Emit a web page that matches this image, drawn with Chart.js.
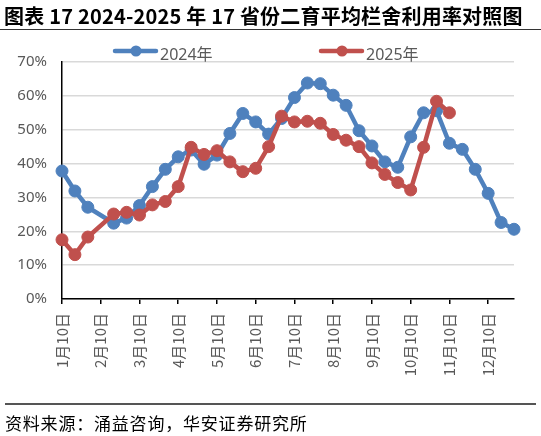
<!DOCTYPE html>
<html>
<head>
<meta charset="utf-8">
<script src="https://cdn.jsdelivr.net/npm/chart.js@4.4.1/dist/chart.umd.min.js"></script>
<style>
  body { margin: 0; background: #fff; }
  #page { position: relative; width: 541px; height: 436px; overflow: hidden; font-family: "Noto Sans CJK SC", sans-serif; }
  #title { position: absolute; left: 4px; top: 1px; font-size: 20px; font-weight: bold; color: #000; white-space: nowrap; letter-spacing: 0.2px; }
  #rule-top { position: absolute; left: 0; top: 29px; width: 541px; height: 0; border-top: 1.5px solid #333; }
  #rule-bottom { position: absolute; left: 5px; top: 403px; width: 531px; height: 0; border-top: 2px solid #555; }
  #source { position: absolute; left: 5px; top: 410px; font-size: 17px; color: #000; white-space: nowrap; letter-spacing: 0.8px; }
  #wrap { position: absolute; left: 0; top: 0; width: 541px; height: 436px; }
</style>
</head>
<body>
<div id="page">
  <div id="wrap"><canvas id="chart"></canvas></div>
  <div id="title">图表 17 2024-2025 年 17 省份二育平均栏舍利用率对照图</div>
  <div id="rule-top"></div>
  <div id="rule-bottom"></div>
  <div id="source">资料来源：涌益咨询，华安证券研究所</div>
</div>
<script>
// ten-day periods, one category per point
const categories = [
  '1月10日', '1月20日', '1月30日', '2月10日', '2月20日', '2月28日',
  '3月10日', '3月20日', '3月30日', '4月10日', '4月20日', '4月30日',
  '5月10日', '5月20日', '5月30日', '6月10日', '6月20日', '6月30日',
  '7月10日', '7月20日', '7月30日', '8月10日', '8月20日', '8月30日',
  '9月10日', '9月20日', '9月30日', '10月10日', '10月20日', '10月30日',
  '11月10日', '11月20日', '11月30日', '12月10日', '12月20日', '12月30日'
];

// only the 10th of each month gets a label
const tickLabels = ['1月10日', '2月10日', '3月10日', '4月10日', '5月10日', '6月10日',
  '7月10日', '8月10日', '9月10日', '10月10日', '11月10日', '12月10日'];

const seriesNames = ['2024年', '2025年'];

// utilisation rate, %
const rate2024 = [37.8, 31.9, 27.1, null, 22.4, 23.9, 27.6, 33.2, 38.3, 42.0, 44.0, 39.8,
  42.5, 48.9, 54.8, 52.3, 48.7, 53.3, 59.5, 63.8, 63.6, 60.2, 57.2, 49.7,
  45.2, 40.5, 38.9, 47.9, 55.0, 55.6, 46.0, 44.2, 38.3, 31.2, 22.6, 20.6];

const rate2025 = [17.5, 13.1, 18.3, null, 25.1, 25.6, 24.8, 27.8, 28.8, 33.2, 44.8, 42.7,
  43.8, 40.5, 37.6, 38.6, 45.0, 54.0, 52.3, 52.5, 51.9, 48.6, 46.9, 45.0,
  40.2, 36.8, 34.4, 32.2, 44.8, 58.4, 55.0];

const yTicks = [0, 10, 20, 30, 40, 50, 60, 70];

const BLUE = '#4F81BD';
const RED = '#C0504D';
const GREY_TEXT = '#595959';

// Excel style legend: line with a dot, placed above the plot
const excelLegend = {
  id: 'excelLegend',
  afterDraw(chart) {
    const ctx = chart.ctx;
    const starts = [115, 321];
    const y = 51;
    ctx.save();
    chart.data.datasets.forEach((ds, i) => {
      const x = starts[i];
      ctx.strokeStyle = ds.borderColor;
      ctx.lineWidth = 4.5;
      ctx.lineCap = 'round';
      ctx.beginPath();
      ctx.moveTo(x, y);
      ctx.lineTo(x + 41, y);
      ctx.stroke();
      ctx.fillStyle = ds.borderColor;
      ctx.beginPath();
      ctx.arc(x + 21, y, 5.5, 0, Math.PI * 2);
      ctx.fill();
      ctx.fillStyle = GREY_TEXT;
      ctx.font = '16px "Noto Sans", "Noto Sans CJK SC"';
      ctx.textBaseline = 'middle';
      ctx.fillText(ds.label, x + 45, y + 4);
    });
    ctx.restore();
  }
};

const ctx = document.getElementById('chart').getContext('2d');
new Chart(ctx, {
  type: 'line',
  data: {
    labels: categories,
    datasets: [
      { label: seriesNames[0], data: rate2024, borderColor: BLUE, backgroundColor: BLUE,
        pointBackgroundColor: BLUE, pointBorderColor: BLUE, order: 2 },
      { label: seriesNames[1], data: rate2025, borderColor: RED, backgroundColor: RED,
        pointBackgroundColor: RED, pointBorderColor: RED, order: 1 }
    ]
  },
  options: {
    responsive: true,
    maintainAspectRatio: false,
    animation: false,
    spanGaps: true,
    clip: false,
    layout: { padding: { top: 62, right: 27, bottom: 0, left: 0 } },
    elements: {
      line: { borderWidth: 4.5, tension: 0 },
      point: { radius: 6, borderWidth: 1, hoverRadius: 6 }
    },
    plugins: {
      legend: { display: false },
      tooltip: { enabled: false }
    },
    scales: {
      x: {
        type: 'category',
        offset: false,
        afterFit: s => { s.height = 137; },
        border: { color: '#000', width: 1.5 },
        grid: {
          drawOnChartArea: false,
          drawTicks: true,
          tickLength: 5,
          lineWidth: 1.5,
          color: c => tickLabels.includes(categories[c.index]) ? '#000' : 'rgba(0,0,0,0)',
          tickColor: c => tickLabels.includes(categories[c.index]) ? '#000' : 'rgba(0,0,0,0)'
        },
        ticks: {
          autoSkip: false,
          minRotation: 90,
          maxRotation: 90,
          padding: 9,
          color: GREY_TEXT,
          font: { family: '"Noto Sans CJK SC"', size: 15 },
          callback: (v, i) => tickLabels.includes(categories[i]) ? categories[i] : ''
        }
      },
      y: {
        min: 0,
        max: 70,
        afterFit: s => { s.width = 62; },
        afterBuildTicks: s => { s.ticks = yTicks.map(v => ({ value: v })); },
        border: { color: '#000', width: 1.5 },
        grid: { color: '#D9D9D9', lineWidth: 1.5, drawTicks: false },
        ticks: {
          padding: 15,
          color: GREY_TEXT,
          font: { family: '"Noto Sans"', size: 15 },
          callback: v => v + '%'
        }
      }
    }
  },
  plugins: [excelLegend]
});
</script>
</body>
</html>
